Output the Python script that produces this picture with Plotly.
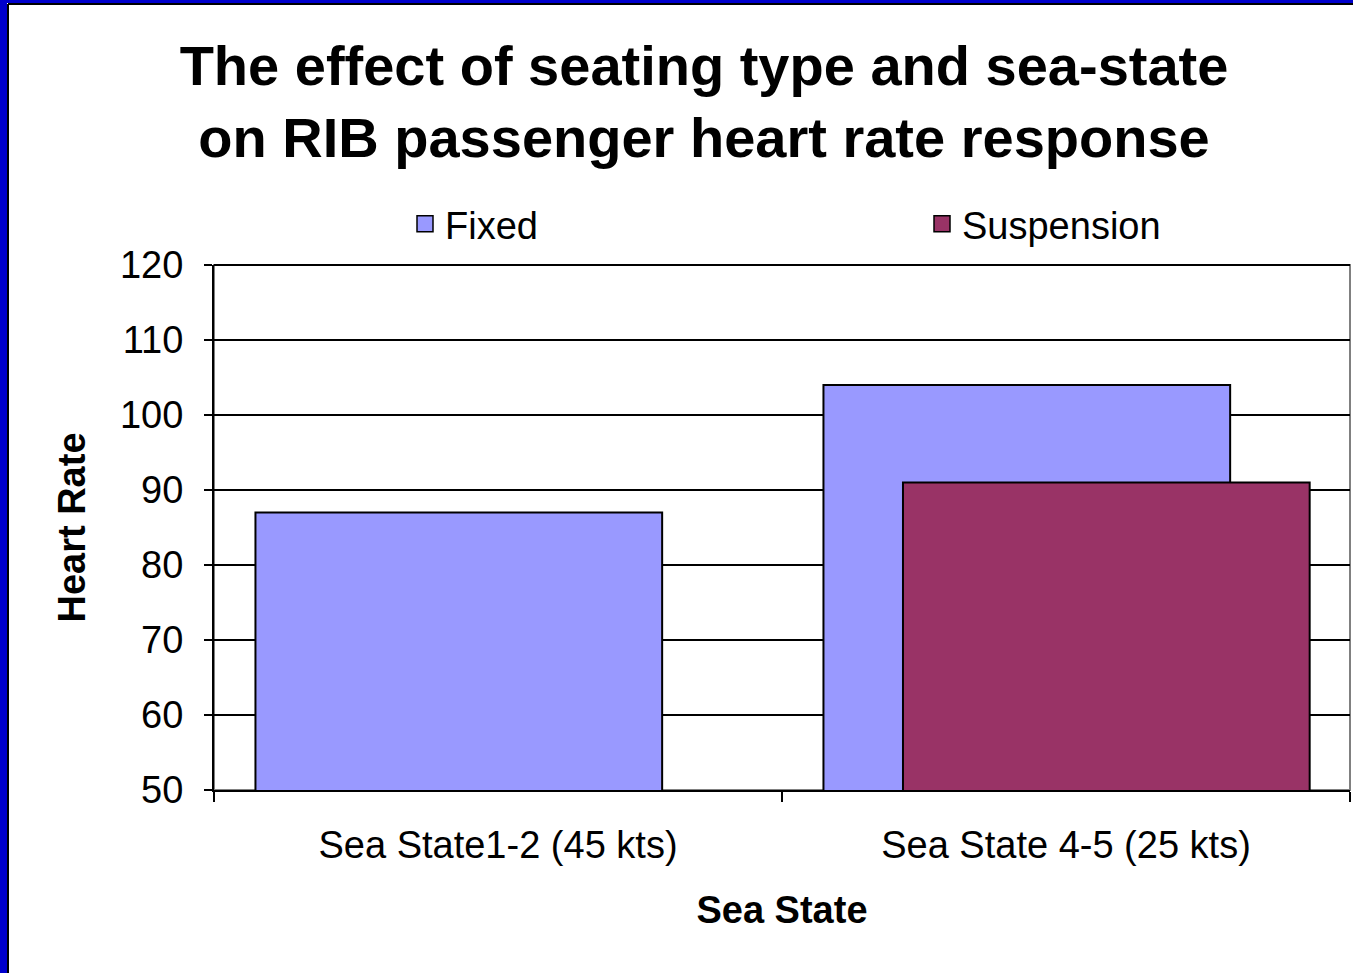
import plotly.graph_objects as go

categories = ["Sea State1-2 (45 kts)", "Sea State 4-5 (25 kts)"]
fixed_values = [87, 104]
suspension_values = [None, 91]
series_names = ["Fixed", "Suspension"]
y_ticks = [50, 60, 70, 80, 90, 100, 110, 120]

W, H = 1353, 973
L, R, T, B = 214, 3, 265, 183
PW, PH = W - L - R, H - T - B


def px(x):
    return (x - L) / PW


def py(y):
    return (H - B - y) / PH


FIXED_COLOR = "#9999FF"
SUSP_COLOR = "#993366"
FONT = "Liberation Sans, Arial, sans-serif"

fig = go.Figure()
fig.add_trace(go.Bar(
    x=categories, y=fixed_values, name=series_names[0],
    marker=dict(color=FIXED_COLOR, line=dict(color="black", width=2)),
    width=0.716, offset=-0.427, showlegend=False,
))
fig.add_trace(go.Bar(
    x=categories, y=suspension_values, name=series_names[1],
    marker=dict(color=SUSP_COLOR, line=dict(color="black", width=2)),
    width=0.716, offset=-0.287, showlegend=False,
))
# legend proxies (one legend box per series, as in the reference)
fig.add_trace(go.Scatter(
    x=[None], y=[None], mode="markers", name=series_names[0], legend="legend",
    marker=dict(symbol="square", size=16, color=FIXED_COLOR, line=dict(color="black", width=1.5)),
))
fig.add_trace(go.Scatter(
    x=[None], y=[None], mode="markers", name=series_names[1], legend="legend2",
    marker=dict(symbol="square", size=16, color=SUSP_COLOR, line=dict(color="black", width=1.5)),
))

shapes = [
    # plot area border (gray)
    dict(type="rect", xref="paper", yref="paper", x0=0, x1=1, y0=0, y1=1,
         line=dict(color="#808080", width=2), layer="below"),
    # top gridline (120) in black
    dict(type="line", xref="paper", yref="paper", x0=0, x1=1, y0=1, y1=1,
         line=dict(color="black", width=2)),
    # blue slide frame
    dict(type="rect", xref="paper", yref="paper", x0=px(0), x1=px(7), y0=py(H), y1=py(0),
         fillcolor="#0000CC", line=dict(width=0)),
    dict(type="rect", xref="paper", yref="paper", x0=px(0), x1=px(W), y0=py(3), y1=py(0),
         fillcolor="#0000CC", line=dict(width=0)),
    dict(type="line", xref="paper", yref="paper", x0=px(8), x1=px(8), y0=py(H), y1=py(4),
         line=dict(color="black", width=2)),
    dict(type="line", xref="paper", yref="paper", x0=px(8), x1=px(W), y0=py(4), y1=py(4),
         line=dict(color="black", width=2)),
]

legend_common = dict(
    orientation="h", xanchor="left", yanchor="middle",
    font=dict(family=FONT, size=38), bgcolor="rgba(0,0,0,0)", itemsizing="trace",
)

fig.update_layout(
    width=W, height=H, autosize=False,
    margin=dict(l=L, r=R, t=T, b=B, pad=0),
    paper_bgcolor="white", plot_bgcolor="white",
    barmode="overlay",
    font=dict(family=FONT, color="black", size=38),
    title=dict(
        text="The effect of seating type and sea-state<br>on RIB passenger heart rate response",
        x=704 / W, xref="container", xanchor="center",
        y=1 - 84.5 / H, yref="container", yanchor="middle",
        font=dict(family=FONT, size=56, weight="bold", color="black"),
    ),
    legend=dict(x=px(405), y=py(224), **legend_common),
    legend2=dict(x=px(922), y=py(224), **legend_common),
    xaxis=dict(
        type="category", categoryorder="array", categoryarray=categories,
        range=[-0.5, 1.5], showline=True, linecolor="black", linewidth=2,
        ticks="outside", tickson="boundaries", ticklen=10, tickwidth=2, tickcolor="black",
        showgrid=False, tickfont=dict(size=38, family=FONT), ticklabelstandoff=20,
        title=dict(text="Sea State", font=dict(size=38, family=FONT, weight="bold"), standoff=32),
    ),
    yaxis=dict(
        range=[50, 120], tickvals=y_ticks, showline=True, linecolor="black", linewidth=2,
        ticks="outside", ticklen=8, tickwidth=2, tickcolor="black",
        showgrid=True, gridcolor="black", gridwidth=2, zeroline=False,
        tickfont=dict(size=38, family=FONT), ticklabelstandoff=13,
        title=dict(text="Heart Rate", font=dict(size=38, family=FONT, weight="bold"), standoff=23),
    ),
    shapes=shapes,
)

fig.write_html("out.html", config={"displayModeBar": False},
               post_script="document.body.style.margin='0';")
